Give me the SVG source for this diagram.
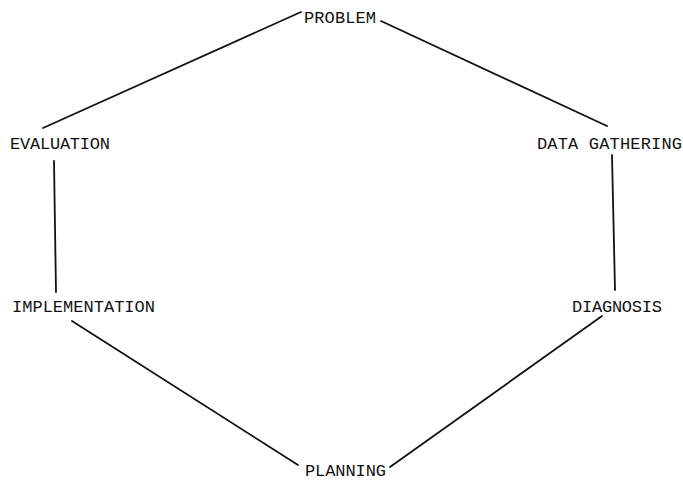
<svg xmlns="http://www.w3.org/2000/svg" width="683" height="481" viewBox="0 0 683 481">
<style>
text{font-family:"Liberation Mono","DejaVu Sans Mono",monospace;font-size:17px;fill:#111;}
.c line{stroke:#111;stroke-width:1.8;stroke-linecap:round;}
</style>
<rect width="683" height="481" fill="#fff"/>
<g class="c" id="connectors">
<line x1="301" y1="12" x2="43" y2="128"/>
<line x1="381" y1="21" x2="607" y2="126"/>
<line x1="612" y1="155" x2="615" y2="290"/>
<line x1="602" y1="316" x2="390" y2="467"/>
<line x1="72" y1="321" x2="298" y2="465"/>
<line x1="54" y1="161" x2="56" y2="292"/>
</g>
<g id="problem"><text x="304" y="23" textLength="72">PROBLEM</text></g>
<g id="data-gathering"><text x="537" y="149" textLength="145">DATA GATHERING</text></g>
<g id="diagnosis"><text x="572" y="312" textLength="90">DIAGNOSIS</text></g>
<g id="planning"><text x="305" y="476" textLength="81">PLANNING</text></g>
<g id="implementation"><text x="12" y="312" textLength="143">IMPLEMENTATION</text></g>
<g id="evaluation"><text x="10" y="149" textLength="100">EVALUATION</text></g>
</svg>
